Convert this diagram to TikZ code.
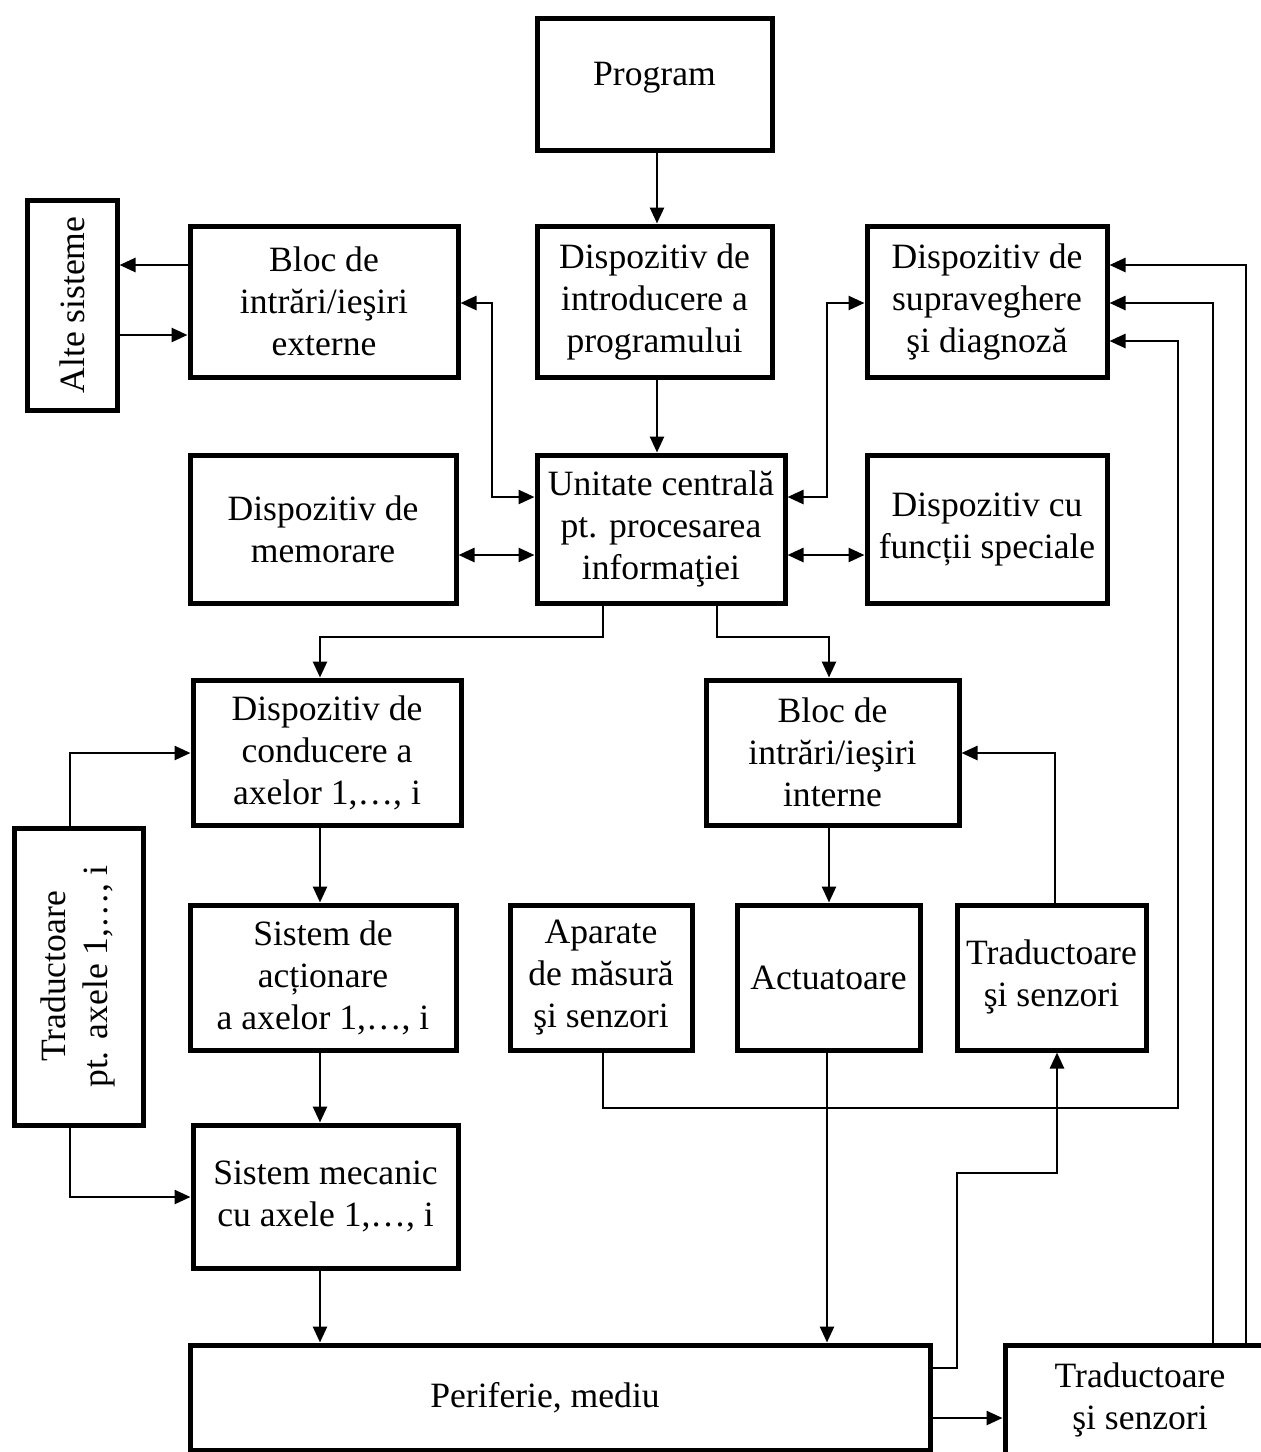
\documentclass[tikz,border=0pt]{standalone}
\usepackage{fontspec}
\usepackage{graphicx}
\setmainfont{Liberation Serif}
\usetikzlibrary{arrows.meta}

\tikzset{
  box/.style={draw, line width=5pt, fill=white, inner sep=2pt, align=center,
    font=\fontsize{35.6}{42}\selectfont},
  link/.style={line width=2.6pt},
  arr/.style={link, -{Triangle[length=16pt,width=14pt]}},
  arrboth/.style={link, {Triangle[length=16pt,width=14pt]}-{Triangle[length=16pt,width=14pt]}}
}

\begin{document}
\begin{tikzpicture}[x=1pt, y=-1pt]
\useasboundingbox (0,0) rectangle (1261,1452);
\clip (0,0) rectangle (1261,1452);
\fill[white] (0,0) rectangle (1261,1452);

% blocks
\node[box, minimum width=235pt, minimum height=132pt] (prog) at (654.5,84) {\raisebox{20pt}{Program}};
\node[box, minimum width=235pt, minimum height=151pt] (intro) at (654.5,301.5) {Dispozitiv de\\introducere a\\programului};
\node[box, minimum width=268pt, minimum height=151pt] (blocext) at (324,301.5) {Bloc de\\intrări/ieşiri\\externe};
\node[box, minimum width=90pt, minimum height=210pt] (alte) at (72,305) {\rotatebox{90}{Alte sisteme}};
\node[box, minimum width=240pt, minimum height=151pt] (supr) at (987,301.5) {Dispozitiv de\\supraveghere\\şi diagnoză};
\node[box, minimum width=266pt, minimum height=148pt] (mem) at (323,529) {Dispozitiv de\\memorare};
\node[box, minimum width=248pt, minimum height=148pt] (uc) at (661,529) {Unitate centrală\\pt. procesarea\\informaţiei};
\node[box, minimum width=240pt, minimum height=148pt] (spec) at (987,529) {Dispozitiv cu\\funcții speciale};
\node[box, minimum width=268pt, minimum height=145pt] (cond) at (327,752.5) {Dispozitiv de\\conducere a\\axelor 1,…, i};
\node[box, minimum width=253pt, minimum height=145pt] (bint) at (832.5,752.5) {Bloc de\\intrări/ieşiri\\interne};
\node[box, minimum width=129pt, minimum height=297pt] (tpax) at (78.5,976.5)
  {\rotatebox{90}{\begin{tabular}{@{}c@{}}Traductoare\\pt. axele 1,…, i\end{tabular}}};
\node[box, minimum width=266pt, minimum height=145pt] (act) at (323,977.5) {Sistem de\\acționare\\a axelor 1,…, i};
\node[box, minimum width=265pt, minimum height=143pt] (mec) at (325.5,1196.5) {Sistem mecanic\\cu axele 1,…, i};
\node[box, minimum width=182pt, minimum height=145pt] (apar) at (601,977.5) {\raisebox{14pt}{\begin{tabular}{@{}c@{}}Aparate\\de măsură\\şi senzori\end{tabular}}};
\node[box, minimum width=183pt, minimum height=145pt] (actu) at (828.5,977.5) {Actuatoare};
\node[box, minimum width=189pt, minimum height=145pt] (tsm) at (1051.5,977.5) {\raisebox{16pt}{\begin{tabular}{@{}c@{}}Traductoare\\şi senzori\end{tabular}}};
\node[box, minimum width=740pt, minimum height=105pt] (per) at (560,1397.5) {\hspace*{-30pt}Periferie, mediu};
\node[box, minimum width=270pt, minimum height=110pt] (tsb) at (1140,1400) {Traductoare\\şi senzori};

% program flow
\draw[arr] (prog.south -| 657,0) -- (intro.north -| 657,0);
\draw[arr] (intro.south -| 657,0) -- (uc.north -| 657,0);

% external systems
\draw[arr] (blocext.west |- 0,265) -- (alte.east |- 0,265);
\draw[arr] (alte.east |- 0,335) -- (blocext.west |- 0,335);

% central unit links
\draw[arrboth] (uc.west |- 0,497) -| (492,303) -- (blocext.east |- 0,303);
\draw[arrboth] (uc.east |- 0,497) -| (827,303) -- (supr.west |- 0,303);
\draw[arrboth] (mem.east |- 0,555) -- (uc.west |- 0,555);
\draw[arrboth] (uc.east |- 0,555) -- (spec.west |- 0,555);
\draw[arr] (uc.south -| 603,0) |- (320,637) -- (cond.north -| 320,0);
\draw[arr] (uc.south -| 717,0) |- (829,637) -- (bint.north -| 829,0);

% axis chain
\draw[arr] (cond.south -| 320,0) -- (act.north -| 320,0);
\draw[arr] (act.south -| 320,0) -- (mec.north -| 320,0);
\draw[arr] (mec.south -| 320,0) -- (per.north -| 320,0);
\draw[arr] (tpax.north -| 70,0) |- (cond.west |- 0,753);
\draw[arr] (tpax.south -| 70,0) |- (mec.west |- 0,1197);

% internal I/O chain
\draw[arr] (bint.south -| 829,0) -- (actu.north -| 829,0);
\draw[arr] (tsm.north -| 1055,0) |- (bint.east |- 0,753);
\draw[arr] (actu.south -| 827,0) -- (per.north -| 827,0);

% feedback to supervision
\draw[arr] (apar.south -| 603,0) |- (1178,1108) |- (supr.east |- 0,341);
\draw[arr] (per.east |- 0,1368) -| (957,1173) -| (tsm.south -| 1057,0);
\draw[arr] (per.east |- 0,1418) -- (tsb.west |- 0,1418);
\draw[arr] (tsb.north -| 1213,0) |- (supr.east |- 0,303);
\draw[arr] (tsb.north -| 1246,0) |- (supr.east |- 0,265);
\end{tikzpicture}
\end{document}
